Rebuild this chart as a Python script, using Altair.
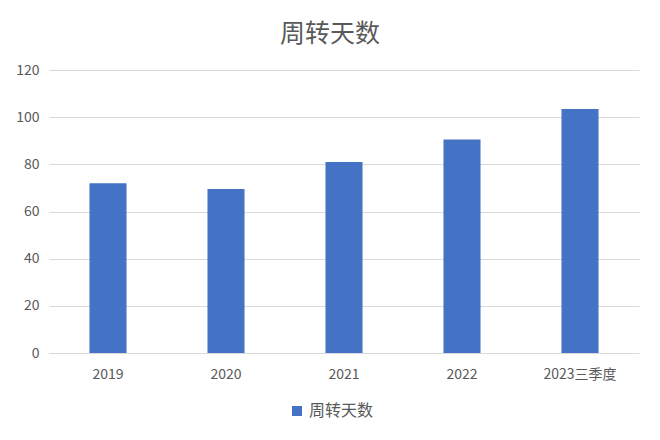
import altair as alt
import pandas as pd

categories = ["2019", "2020", "2021", "2022", "2023三季度"]
values = [72, 69.5, 81, 90.5, 103.5]
series = "周转天数"

df = pd.DataFrame({"cat": categories, "val": values, "series": [series] * len(categories)})

FONT = "Noto Sans CJK SC"
GREY = "#595959"

chart = alt.Chart(df).mark_bar(color="#4472C4").encode(
    x=alt.X("cat:N", sort=categories, title=None,
            scale=alt.Scale(paddingInner=0.686, paddingOuter=0.343),
            axis=alt.Axis(labelAngle=0, ticks=False, domainColor="#d9d9d9", labelPadding=14,
                          labelFontSize=14, labelColor=GREY, labelFont=FONT)),
    y=alt.Y("val:Q", title=None,
            scale=alt.Scale(domain=[0, 120]),
            axis=alt.Axis(values=[0, 20, 40, 60, 80, 100, 120], ticks=False, domain=False,
                          gridColor="#d9d9d9", labelPadding=10, labelFontSize=14,
                          labelColor=GREY, labelFont=FONT)),
    color=alt.Color("series:N", scale=alt.Scale(range=["#4472C4"]),
                    legend=alt.Legend(title=None, orient="none", legendX=240, legendY=333,
                                      symbolType="square", symbolSize=100, labelFontSize=16,
                                      labelColor=GREY, labelFont=FONT, symbolStrokeWidth=0)),
).properties(
    width=590, height=283,
    title=alt.TitleParams(series, fontSize=25, font=FONT, fontWeight="normal", color=GREY,
                          anchor="middle", dx=-14, offset=16),
    autosize=alt.AutoSizeParams(type="none"),
    padding={"left": 41, "top": 62, "right": 12, "bottom": 75},
).configure_view(stroke=None)

chart.save("out.html", embed_options={"renderer": "svg", "actions": False})
